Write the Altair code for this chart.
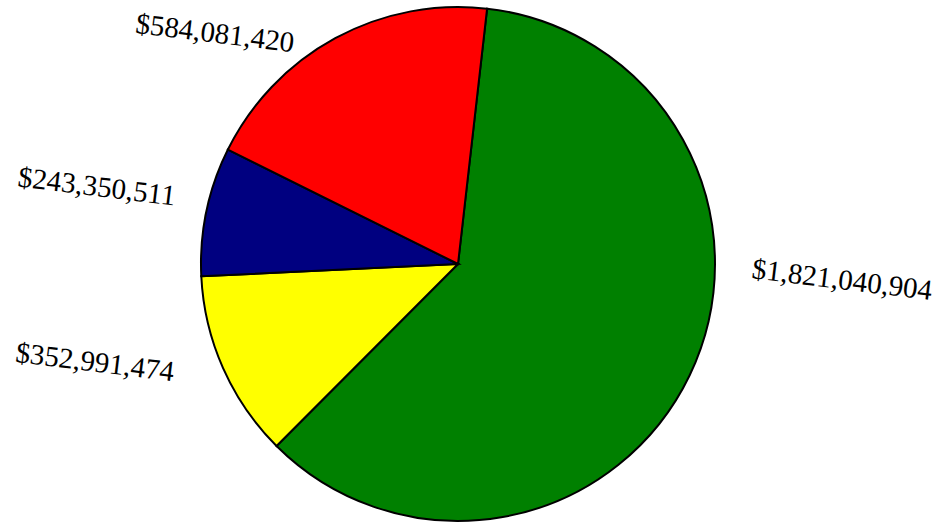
import math
import altair as alt
import pandas as pd

# Data (clockwise order starting near 12 o'clock)
categories = ["A", "B", "C", "D"]
values = [1821040904, 352991474, 243350511, 584081420]
labels = ["$1,821,040,904", "$352,991,474", "$243,350,511", "$584,081,420"]
colors = ["#008000", "#FFFF00", "#000080", "#FF0000"]

df = pd.DataFrame({
    "cat": categories,
    "value": values,
    "label": labels,
    "order": list(range(len(categories))),
})

start = 6.5 * math.pi / 180
theta_scale = alt.Scale(range=[start, start + 2 * math.pi])

# label offsets (style/layout only), in the rotated text frame
label_offsets = {
    "A": (99, -127),
    "B": (-91, -12),
    "C": (-69, -7),
    "D": (-95, 45),
}

base = alt.Chart(df).encode(
    theta=alt.Theta("value:Q", stack=True, scale=theta_scale),
    order=alt.Order("order:Q"),
)

pie = base.mark_arc(radius=257, stroke="black", strokeWidth=2).encode(
    color=alt.Color("cat:N", scale=alt.Scale(domain=categories, range=colors), legend=None)
)

layers = [pie]
for cat, (dx, dy) in label_offsets.items():
    layers.append(
        base.mark_text(
            radius=300, dx=dx, dy=dy, angle=7, font="Liberation Serif",
            fontSize=29, color="black", align="center", baseline="middle",
        ).encode(
            text=alt.condition(alt.datum.cat == cat, alt.Text("label:N"), alt.value(""))
        )
    )

chart = alt.layer(*layers).properties(
    width=916, height=528,
    autosize=alt.AutoSizeParams(type="none"),
    padding={"left": 0, "top": 0, "right": 29, "bottom": 0},
).configure_view(stroke=None)

chart.save("out.html", embed_options={"renderer": "svg", "actions": False})
